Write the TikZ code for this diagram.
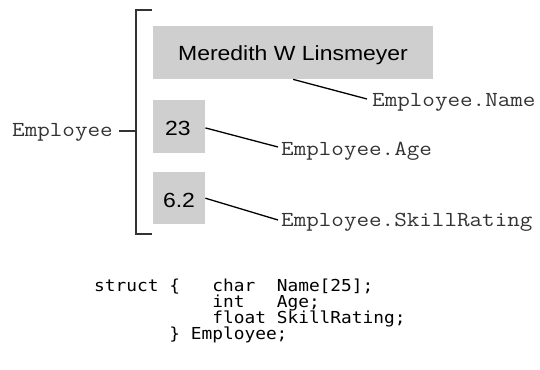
\documentclass[tikz,border=0pt]{standalone}
\usepackage{fontspec}
\usetikzlibrary{calc}
\newfontfamily\boxfont[FakeStretch=1.12]{Liberation Sans}
\newfontfamily\labelfont[FakeStretch=1.14]{Latin Modern Mono}
\newfontfamily\codefont[FakeStretch=1.08]{DejaVu Sans Mono}
\definecolor{cellgray}{HTML}{CFCFCF}
\definecolor{inkgray}{HTML}{333333}

\begin{document}
\begin{tikzpicture}[x=1pt, y=-1pt,
  cell/.style={fill=cellgray, draw=none, inner sep=0pt, anchor=north west},
  valtext/.style={inner sep=0pt, anchor=base, font=\boxfont\fontsize{20.5}{24}\selectfont, text=black},
  member/.style={inner sep=0pt, anchor=base west, font=\labelfont\fontsize{21.4}{25}\selectfont, text=inkgray},
  codeline/.style={inner sep=0pt, anchor=base west, text height=11pt, text depth=3pt,
    font=\codefont\fontsize{16.5}{19}\selectfont, text=black},
  pointer/.style={draw=black, line width=1.3pt},
  brace/.style={draw=inkgray, line width=1.8pt}
]
\useasboundingbox (0,0) rectangle (540,369);

% the three storage cells
\node[cell, minimum width=280pt, minimum height=53pt] (nameBox) at (153,26) {};
\node[cell, minimum width=52pt, minimum height=53pt] (ageBox) at (153,100) {};
\node[cell, minimum width=52pt, minimum height=52pt] (skillBox) at (153,172) {};

\node[valtext] (nameVal) at (293,60.7) {Meredith W Linsmeyer};
\node[valtext] (ageVal) at (178,135) {23};
\node[valtext] (skillVal) at (179,207) {6.2};

% bracket grouping the members
\coordinate (brTop) at (152,10);
\coordinate (brBot) at (152,234);
\coordinate (brMid) at (136,130.7);
\draw[brace] (brTop) -| (brBot -| brMid) -- (brBot);

\node[member] (emp) at (12,136.7) {Employee};
\draw[brace] (emp.east |- brMid) ++(6,0) -- (brMid);

% member names
\node[member] (lblName) at (372,106) {Employee.Name};
\node[member] (lblAge) at (281,155) {Employee.Age};
\node[member] (lblSkill) at (281,226.7) {Employee.SkillRating};

\draw[pointer] (nameBox.south) -- ($(lblName.base west)+(-5,-7)$);
\draw[pointer] (ageBox.east) ++(0,1.2) -- ($(lblAge.base west)+(-3,-8)$);
\draw[pointer] (skillBox.east) -- ($(lblSkill.base west)+(-3,-6.7)$);

% C declaration
\node[codeline] (c1a) at (94,291) {struct~\{};
\node[codeline] (c1b) at (212.25,291) {char~~Name[25];};
\node[codeline] (c2) at (212.25,307.5) {int~~~Age;};
\node[codeline] (c3) at (212.25,323.5) {float~SkillRating;};
\node[codeline] (c4) at (169.25,339.5) {\}~Employee;};
\end{tikzpicture}
\end{document}
